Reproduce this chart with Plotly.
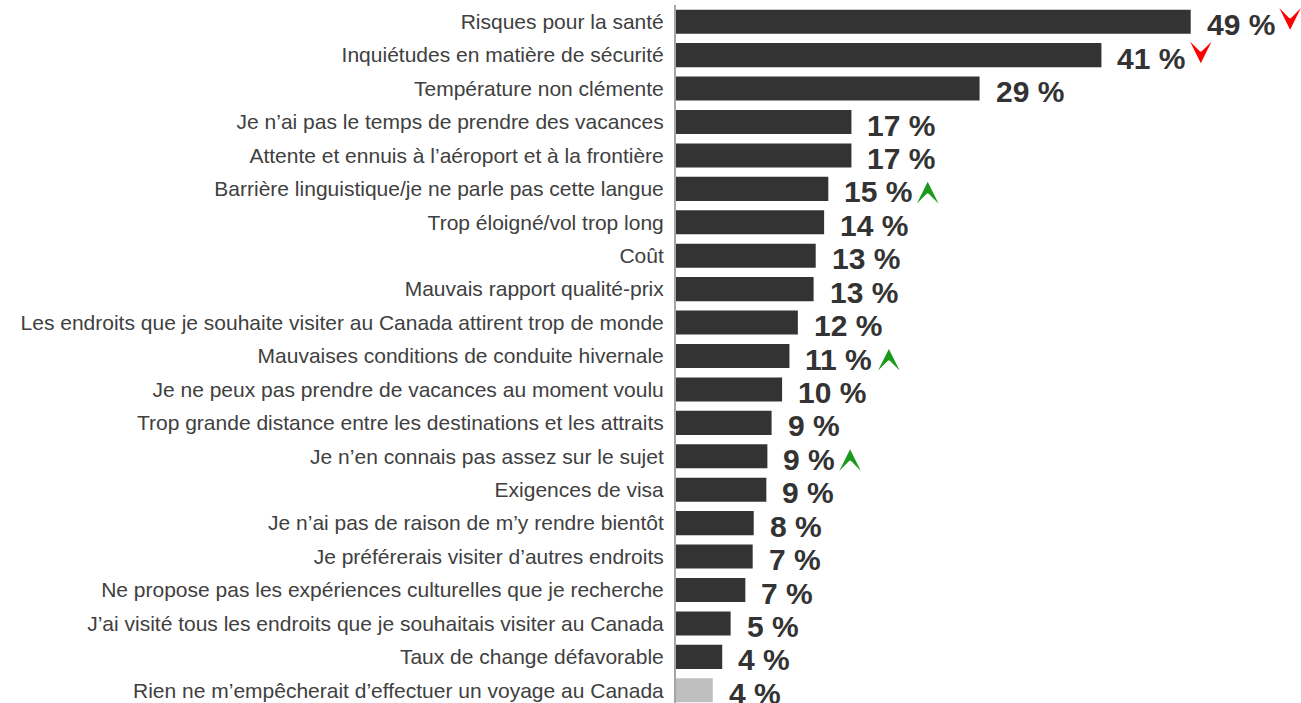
import plotly.graph_objects as go

categories = [
    "Risques pour la santé",
    "Inquiétudes en matière de sécurité",
    "Température non clémente",
    "Je n’ai pas le temps de prendre des vacances",
    "Attente et ennuis à l’aéroport et à la frontière",
    "Barrière linguistique/je ne parle pas cette langue",
    "Trop éloigné/vol trop long",
    "Coût",
    "Mauvais rapport qualité-prix",
    "Les endroits que je souhaite visiter au Canada attirent trop de monde",
    "Mauvaises conditions de conduite hivernale",
    "Je ne peux pas prendre de vacances au moment voulu",
    "Trop grande distance entre les destinations et les attraits",
    "Je n’en connais pas assez sur le sujet",
    "Exigences de visa",
    "Je n’ai pas de raison de m’y rendre bientôt",
    "Je préférerais visiter d’autres endroits",
    "Ne propose pas les expériences culturelles que je recherche",
    "J’ai visité tous les endroits que je souhaitais visiter au Canada",
    "Taux de change défavorable",
    "Rien ne m’empêcherait d’effectuer un voyage au Canada",
]
values = [49.0, 40.5, 28.9, 16.7, 16.7, 14.5, 14.1, 13.3, 13.1, 11.6, 10.8,
          10.1, 9.1, 8.7, 8.6, 7.4, 7.3, 6.6, 5.2, 4.4, 3.5]
labels = ["49 %", "41 %", "29 %", "17 %", "17 %", "15 %", "14 %", "13 %", "13 %",
          "12 %", "11 %", "10 %", "9 %", "9 %", "9 %", "8 %", "7 %", "7 %",
          "5 %", "4 %", "4 %"]
# change vs previous wave: -1 significantly lower, +1 significantly higher
trend = [-1, -1, 0, 0, 0, 1, 0, 0, 0, 0, 1, 0, 0, 1, 0, 0, 0, 0, 0, 0, 0]

colors = ["#333333"] * (len(categories) - 1) + ["#bfbfbf"]

fig = go.Figure()
fig.add_trace(go.Bar(
    x=values, y=categories, orientation="h",
    marker=dict(color=colors, line=dict(width=0)),
    hoverinfo="skip",
))

for cat, v, lab, t in zip(categories, values, labels, trend):
    fig.add_annotation(
        x=v, y=cat, text="<b>" + lab + "</b>", showarrow=False,
        xanchor="left", yanchor="middle", xshift=14, yshift=-3,
        font=dict(size=30, color="#333333", family="Liberation Sans, Arial, sans-serif"),
    )
    if t != 0:
        ndig = len(lab) - 2
        shift = 14 + ndig * 16.7 + 35 + 17
        fig.add_annotation(
            x=v, y=cat, text="", showarrow=True,
            arrowhead=3, arrowsize=3.0, arrowwidth=1.2,
            arrowcolor="#ff0000" if t < 0 else "#1a9a1a",
            ax=0, ay=-8 if t < 0 else 8,
            xshift=shift, yshift=-8 if t < 0 else 7,
        )

fig.update_layout(
    width=1301, height=707,
    margin=dict(l=676, r=0, t=5, b=0),
    paper_bgcolor="white", plot_bgcolor="white",
    bargap=0.28, showlegend=False,
    font=dict(family="Liberation Sans, Arial, sans-serif", size=21, color="#404040"),
)
fig.update_xaxes(range=[0, 59.5], showgrid=False, zeroline=False,
                 showticklabels=False, showline=False)
fig.update_yaxes(range=[len(categories) - 0.5, -0.5], showgrid=False, showline=True,
                 linecolor="#a6a6a6", linewidth=2, ticks="", ticklabelstandoff=6,
                 tickfont=dict(size=21, color="#404040"))

fig.write_html("out.html", config={"displayModeBar": False},
               post_script="document.body.style.margin='0';document.body.style.overflow='hidden';")
